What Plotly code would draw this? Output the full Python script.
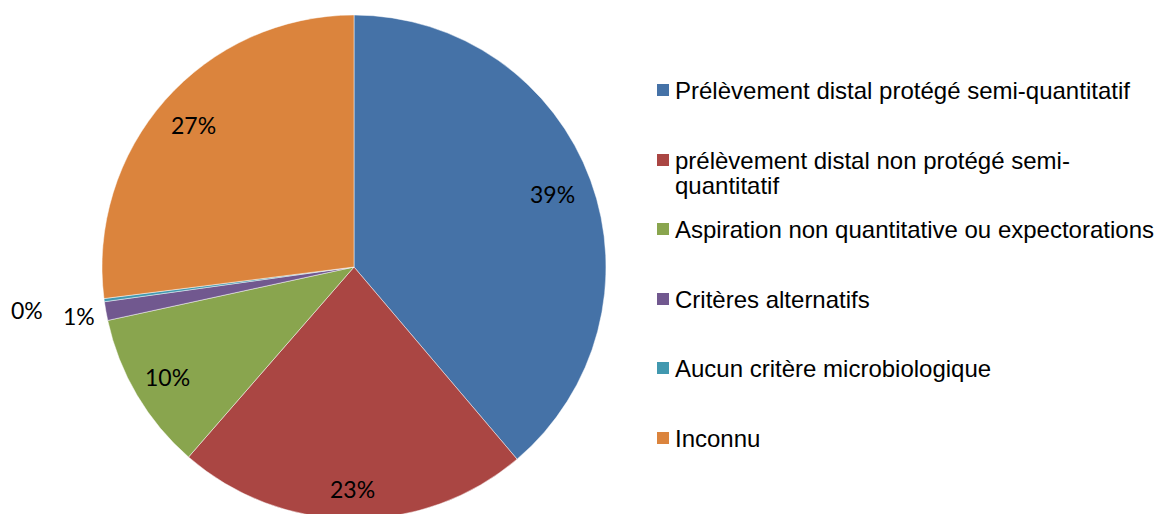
import numpy as np
import plotly.graph_objects as go

# ---- data ----
categories = [
    "Prélèvement distal protégé semi-quantitatif",
    "prélèvement distal non protégé semi-quantitatif",
    "Aspiration non quantitative ou expectorations",
    "Critères alternatifs",
    "Aucun critère microbiologique",
    "Inconnu",
]
legend_labels = [
    "Prélèvement distal protégé semi-quantitatif",
    "prélèvement distal non protégé semi-<br>quantitatif",
    "Aspiration non quantitative ou expectorations",
    "Critères alternatifs",
    "Aucun critère microbiologique",
    "Inconnu",
]
values = [38.8, 22.6, 10.2, 1.2, 0.2, 27.0]
colors = ["#4572A7", "#AA4643", "#89A54E", "#71588F", "#4198AF", "#DB843D"]

# ---- layout geometry (pixels) ----
W, H = 1155, 524          # slightly taller than the window: pie bottom is cropped
pie_top, R = 15, 252
cx, cy = 354, pie_top + R
label_r = [0.84, 0.88, 0.86, 1.11, 1.31, 0.85]   # label radius factors
legend_y = [90, 160, 229, 299, 368, 438]        # legend rows (px)
line_gap = 25
legend_sq_x, legend_txt_x, sq = 657, 674, 12


def px_x(x):
    return x / W


def px_y(y):
    return 1 - y / H


fig = go.Figure()
fig.add_trace(go.Pie(
    labels=categories,
    values=values,
    sort=False,
    direction="clockwise",
    rotation=0,
    marker=dict(colors=colors, line=dict(color="rgba(255,255,255,0.8)", width=0.6)),
    textinfo="none",
    hoverinfo="label+percent",
    showlegend=False,
    domain=dict(x=[px_x(cx - R), px_x(cx + R)], y=[px_y(cy + R), px_y(cy - R)]),
))

# percentage labels, positioned from the data angles
v = np.array(values, dtype=float)
frac = v / v.sum()
cum = np.cumsum(frac) - frac / 2
ang = cum * 2 * np.pi
annotations = []
for i, (a, f) in enumerate(zip(ang, frac)):
    x = cx + np.sin(a) * R * label_r[i]
    y = cy - np.cos(a) * R * label_r[i]
    annotations.append(dict(
        x=px_x(x), y=px_y(y), xref="paper", yref="paper",
        text=f"{round(f * 100):.0f}%", showarrow=False,
        font=dict(family="Lato, Carlito, sans-serif", size=23, color="#000000"),
        xanchor="center", yanchor="middle",
    ))

# manual legend
shapes = []
for i, (lab, col) in enumerate(zip(legend_labels, colors)):
    yc = legend_y[i]
    shapes.append(dict(
        type="rect", xref="paper", yref="paper",
        x0=px_x(legend_sq_x), x1=px_x(legend_sq_x + sq),
        y0=px_y(yc - sq / 2), y1=px_y(yc + sq / 2),
        fillcolor=col, line=dict(width=0),
    ))
    for j, line in enumerate(lab.split("<br>")):
        annotations.append(dict(
            x=px_x(legend_txt_x), y=px_y(yc + j * line_gap), xref="paper", yref="paper",
            text=line, showarrow=False, align="left",
            font=dict(family="Liberation Sans, Arial, sans-serif", size=24, color="#000000"),
            xanchor="left", yanchor="middle", borderpad=0,
        ))

fig.update_layout(
    width=W, height=H,
    margin=dict(l=0, r=0, t=0, b=0),
    paper_bgcolor="white", plot_bgcolor="white",
    annotations=annotations, shapes=shapes,
    showlegend=False,
)

fig.write_html(
    "out.html",
    config={"displayModeBar": False},
    post_script="document.body.style.margin='0px';document.body.style.overflow='hidden';",
)
